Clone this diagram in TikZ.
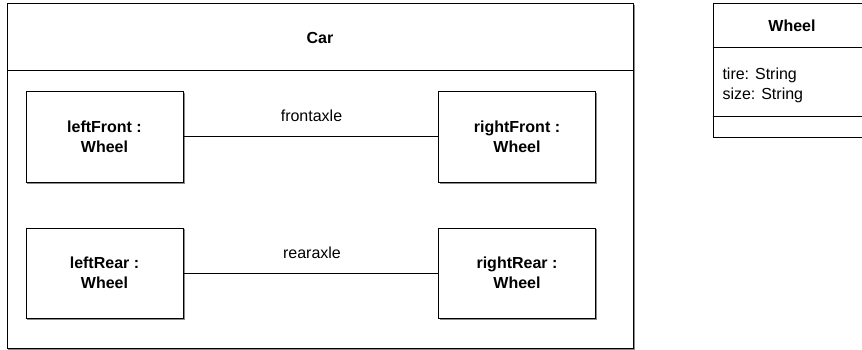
\documentclass[tikz,border=0pt]{standalone}
\usepackage{fontspec}
\setmainfont{Liberation Sans}
\begin{document}
\begin{tikzpicture}[x=1pt,y=-1pt,
  line width=1pt,
  umlfont/.style={font=\fontsize{16}{20}\selectfont},
  objbox/.style={draw=black, fill=white, minimum width=157pt, minimum height=90pt,
    inner sep=0pt, align=center, umlfont, font=\fontsize{16}{20}\selectfont\bfseries},
  shadowline/.style={draw=black!45, line width=1pt},
  linklabel/.style={anchor=base, inner sep=0pt, font=\fontsize{16}{20}\selectfont},
]
\useasboundingbox (0,0) rectangle (862,350);
\begin{scope}
\clip (0,0) rectangle (862,350);
% Car composite
\draw[shadowline] (634,5) -- (634,349) -- (8,349);
\node[draw=black, fill=white, minimum width=626pt, minimum height=344pt, inner sep=0pt] (car) at (320,176) {};
\draw (car.west |- 0,71) coordinate (hl) -- (car.east |- 0,71) coordinate (hr);
\node[linklabel, font=\fontsize{16}{20}\selectfont\bfseries] (carlabel) at (320,44) {Car};

% parts
\foreach \n/\x/\y in {lf/104.5/137, rf/517/137, lr/104.5/273, rr/517/273}{
  \draw[shadowline] (\x+79.5,\y-44) -- (\x+79.5,\y+46) -- (\x-77.5,\y+46);
}
\node[objbox] (leftFront) at (104.5,137) {leftFront :\\Wheel};
\node[objbox] (rightFront) at (517,137) {rightFront :\\Wheel};
\node[objbox] (leftRear) at (104.5,273) {leftRear :\\Wheel};
\node[objbox] (rightRear) at (517,273) {rightRear :\\Wheel};

\draw (leftFront) -- (rightFront);
\draw (leftRear) -- (rightRear);
\node[linklabel] (frontaxle) at (311.5,122) {frontaxle};
\node[linklabel] (rearaxle) at (312,258) {rearaxle};

% Wheel class
\node[draw=black, fill=white, minimum width=158pt, minimum height=134pt, inner sep=0pt] (wheel) at (792,71) {};
\draw (wheel.west |- 0,48) coordinate (w1l) -- (wheel.east |- 0,48) coordinate (w1r);
\draw (wheel.west |- 0,117) coordinate (w2l) -- (wheel.east |- 0,117) coordinate (w2r);
\node[linklabel, font=\fontsize{16}{20}\selectfont\bfseries] (wheelname) at (792,32) {Wheel};
\node[linklabel, anchor=base west] (attr1) at (722,80) {tire: String};
\node[linklabel, anchor=base west] (attr2) at (722,100) {size: String};
\end{scope}
\end{tikzpicture}
\end{document}
